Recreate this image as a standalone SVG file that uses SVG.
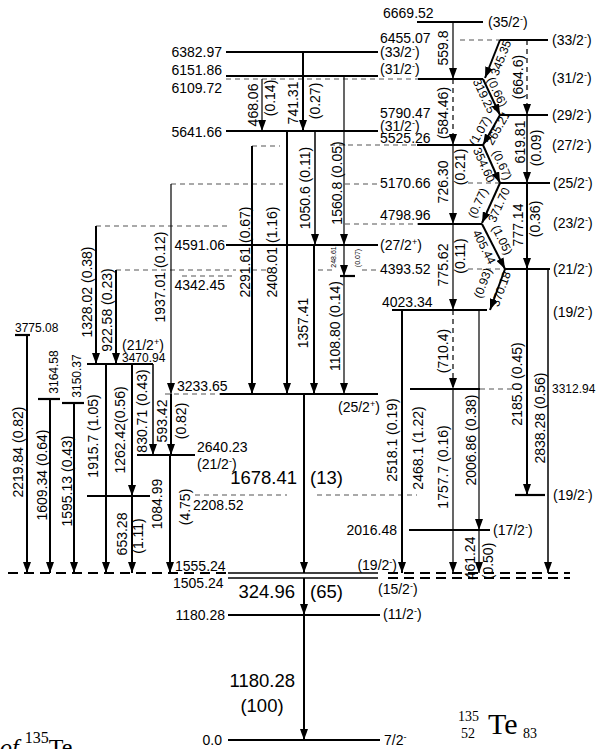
<svg xmlns="http://www.w3.org/2000/svg" width="598" height="749" viewBox="0 0 598 749">
<style>
text{font-family:"Liberation Sans",Arial,sans-serif;font-size:14px;fill:#000}
.r{text-anchor:middle;dominant-baseline:central}
.e{text-anchor:end}
.s{font-size:12px}
.b{font-size:18.5px}
.xs{font-size:7px}
.z{font-size:12px}
.sp{font-size:9px}
.lv{stroke:#000;stroke-width:2.2;fill:none}
.lt{stroke:#000;stroke-width:1.5;fill:none}
.lvd{stroke:#555;stroke-width:1.2;stroke-dasharray:5 4;fill:none}
.lk{stroke:#000;stroke-width:2;stroke-dasharray:10 6;fill:none}
.tr{stroke:#000;stroke-width:2;fill:none;marker-end:url(#ah)}
.t1{stroke-width:1.2}
.t15{stroke-width:1.5}
.d{stroke-dasharray:5 4}
.sf{font-family:"Liberation Serif","Times New Roman",serif;font-size:14px}
.sfL{font-family:"Liberation Serif","Times New Roman",serif;font-size:30px}
.cap{font-family:"Liberation Serif","Times New Roman",serif;font-size:24px}
.capS{font-size:16px}
</style>
<defs>
<marker id="ah" viewBox="0 0 11 8" markerUnits="userSpaceOnUse" markerWidth="11" markerHeight="8" refX="11" refY="4" orient="auto">
<path d="M0,0 L11,4 L0,8 z" fill="#000"/>
</marker>
</defs>
<rect width="598" height="749" fill="#fff"/>

<g id="levels">
<g id="L0"><line x1="228" y1="740" x2="380" y2="740" class="lv"/><text x="222" y="745" class="e">0.0</text><text x="384" y="745">7/2<tspan class="sp" dy="-5">-</tspan></text></g>
<g id="L1180"><line x1="228" y1="615" x2="380" y2="615" class="lv"/><text x="225" y="620" class="e">1180.28</text><text x="383" y="619">(11/2<tspan class="sp" dy="-5">-</tspan><tspan dy="5">)</tspan></text></g>
<g id="L1505"><line x1="228" y1="578" x2="378" y2="578" class="lt"/><line x1="388" y1="578" x2="570" y2="578" class="lk"/><text x="173" y="588">1505.24</text><text x="378" y="594">(15/2<tspan class="sp" dy="-5">-</tspan><tspan dy="5">)</tspan></text></g>
<g id="L1555"><line x1="228" y1="573" x2="378" y2="573" class="lt"/><line x1="8" y1="573" x2="228" y2="573" class="lk"/><line x1="388" y1="573" x2="570" y2="573" class="lk"/><text x="175" y="571">1555.24</text><text x="397" y="570" class="e">(19/2<tspan class="sp" dy="-5">-</tspan><tspan dy="5">)</tspan></text></g>
<g id="L2016"><line x1="409" y1="530" x2="490" y2="530" class="lv"/><text x="397" y="535" class="e">2016.48</text><text x="493" y="535">(17/2<tspan class="sp" dy="-5">-</tspan><tspan dy="5">)</tspan></text></g>
<g id="L2208"><line x1="87" y1="496" x2="150" y2="496" class="lv"/><line x1="195" y1="495" x2="287" y2="495" class="lvd"/><line x1="317" y1="495" x2="417" y2="495" class="lvd"/><line x1="515" y1="495" x2="545" y2="495" class="lv"/><text x="193" y="510">2208.52</text><text x="553" y="500">(19/2<tspan class="sp" dy="-5">-</tspan><tspan dy="5">)</tspan></text></g>
<g id="L2640"><line x1="137" y1="455" x2="195" y2="455" class="lv"/><text x="197" y="452">2640.23</text><text x="197" y="469">(21/2<tspan class="sp" dy="-5">-</tspan><tspan dy="5">)</tspan></text></g>
<g id="L3150"><line x1="62" y1="403" x2="84" y2="403" class="lv"/><text class="r s" transform="translate(77 376) rotate(-90)">3150.37</text></g>
<g id="L3164"><line x1="38" y1="399" x2="60" y2="399" class="lv"/><text class="r s" transform="translate(54 372) rotate(-90)">3164.58</text></g>
<g id="L3233"><line x1="165" y1="394" x2="220" y2="394" class="lvd"/><line x1="220" y1="394" x2="378" y2="394" class="lv"/><text x="177" y="391">3233.65</text><text x="338" y="412">(25/2<tspan class="sp" dy="-5">+</tspan><tspan dy="5">)</tspan></text></g>
<g id="L3312"><line x1="410" y1="389" x2="480" y2="389" class="lv"/><line x1="480" y1="389" x2="523" y2="389" class="lvd"/><text x="552" y="393" class="z">3312.94</text></g>
<g id="L3470"><line x1="87" y1="364" x2="153" y2="364" class="lv"/><text x="122" y="350">(21/2<tspan class="sp" dy="-5">+</tspan><tspan dy="5">)</tspan></text><text x="122" y="362" class="z">3470.94</text></g>
<g id="L3775"><line x1="15" y1="335" x2="30" y2="335" class="lv"/><text x="15" y="332" class="z">3775.08</text></g>
<g id="L4023"><line x1="392" y1="310" x2="487" y2="310" class="lv"/><text x="382" y="307">4023.34</text><text x="553" y="317">(19/2<tspan class="sp" dy="-5">-</tspan><tspan dy="5">)</tspan></text></g>
<g id="L4342"><line x1="182" y1="276" x2="236" y2="276" class="lvd"/><line x1="340" y1="276" x2="355" y2="276" class="lv"/><text x="225" y="290" class="e">4342.45</text></g>
<g id="L4393"><line x1="116" y1="270" x2="236" y2="270" class="lvd"/><line x1="252" y1="270" x2="268" y2="270" class="lvd"/><line x1="318" y1="270" x2="332" y2="270" class="lvd"/><line x1="362" y1="270" x2="378" y2="270" class="lvd"/><line x1="468" y1="269" x2="505" y2="269" class="lvd"/><line x1="505" y1="269" x2="550" y2="269" class="lv"/><text x="380" y="274">4393.52</text><text x="553" y="274">(21/2<tspan class="sp" dy="-5">-</tspan><tspan dy="5">)</tspan></text></g>
<g id="L4591"><line x1="226" y1="245" x2="378" y2="245" class="lv"/><text x="225" y="250" class="e">4591.06</text><text x="380" y="250">(27/2<tspan class="sp" dy="-5">+</tspan><tspan dy="5">)</tspan></text></g>
<g id="L4798"><line x1="96" y1="226" x2="228" y2="226" class="lvd"/><line x1="345" y1="224" x2="418" y2="224" class="lvd"/><line x1="418" y1="224" x2="482" y2="224" class="lv"/><text x="380" y="220">4798.96</text><text x="553" y="228">(23/2<tspan class="sp" dy="-5">-</tspan><tspan dy="5">)</tspan></text></g>
<g id="L5170"><line x1="171" y1="184" x2="283" y2="184" class="lvd"/><line x1="345" y1="184" x2="380" y2="184" class="lvd"/><line x1="468" y1="183" x2="500" y2="183" class="lvd"/><line x1="500" y1="183" x2="550" y2="183" class="lv"/><text x="380" y="188">5170.66</text><text x="553" y="188">(25/2<tspan class="sp" dy="-5">-</tspan><tspan dy="5">)</tspan></text></g>
<g id="L5525"><line x1="252" y1="146" x2="280" y2="146" class="lvd"/><line x1="330" y1="145" x2="417" y2="145" class="lvd"/><line x1="417" y1="145" x2="483" y2="145" class="lv"/><text x="380" y="143">5525.26</text><text x="552" y="150">(27/2<tspan class="sp" dy="-5">-</tspan><tspan dy="5">)</tspan></text></g>
<g id="L5641"><line x1="226" y1="131" x2="378" y2="131" class="lv"/><text x="222" y="137" class="e">5641.66</text><text x="380" y="131">(31/2<tspan class="sp" dy="-5">-</tspan><tspan dy="5">)</tspan></text></g>
<g id="L5790"><line x1="500" y1="115" x2="548" y2="115" class="lv"/><text x="380" y="118">5790.47</text><text x="552" y="120">(29/2<tspan class="sp" dy="-5">-</tspan><tspan dy="5">)</tspan></text></g>
<g id="L6109"><line x1="226" y1="79" x2="418" y2="79" class="lvd"/><line x1="418" y1="79" x2="483" y2="79" class="lv"/><text x="222" y="93" class="e">6109.72</text><text x="552" y="83">(31/2<tspan class="sp" dy="-5">-</tspan><tspan dy="5">)</tspan></text></g>
<g id="L6151"><line x1="226" y1="76" x2="378" y2="76" class="lv"/><text x="222" y="75" class="e">6151.86</text><text x="380" y="74">(31/2<tspan class="sp" dy="-5">-</tspan><tspan dy="5">)</tspan></text></g>
<g id="L6382"><line x1="226" y1="52" x2="378" y2="52" class="lv"/><text x="222" y="57" class="e">6382.97</text><text x="380" y="57">(33/2<tspan class="sp" dy="-5">-</tspan><tspan dy="5">)</tspan></text></g>
<g id="L6455"><line x1="460" y1="40" x2="500" y2="40" class="lvd"/><line x1="500" y1="40" x2="548" y2="40" class="lv"/><text x="380" y="43">6455.07</text><text x="552" y="45">(33/2<tspan class="sp" dy="-5">-</tspan><tspan dy="5">)</tspan></text></g>
<g id="L6669"><line x1="417" y1="22" x2="483" y2="22" class="lv"/><text x="383" y="18">6669.52</text><text x="488" y="27">(35/2<tspan class="sp" dy="-5">-</tspan><tspan dy="5">)</tspan></text></g>
</g>

<g id="transitions">
<line x1="27" y1="335" x2="27" y2="573" class="tr"/>
<line x1="50" y1="399" x2="50" y2="573" class="tr"/>
<line x1="74" y1="403" x2="74" y2="573" class="tr"/>
<line x1="96" y1="226" x2="96" y2="364" class="tr"/>
<line x1="116" y1="270" x2="116" y2="364" class="tr"/>
<line x1="106" y1="364" x2="106" y2="573" class="tr"/>
<line x1="132" y1="364" x2="132" y2="496" class="tr"/>
<line x1="132" y1="496" x2="132" y2="573" class="tr"/>
<line x1="153" y1="364" x2="153" y2="455" class="tr t15"/>
<line x1="171" y1="184" x2="171" y2="394" class="tr t1"/>
<line x1="171" y1="394" x2="171" y2="455" class="tr"/>
<line x1="170" y1="455" x2="170" y2="573" class="tr"/>
<line x1="252" y1="146" x2="252" y2="394" class="tr"/>
<line x1="262" y1="79" x2="262" y2="131" class="tr t1"/>
<line x1="287" y1="131" x2="287" y2="394" class="tr"/>
<line x1="303" y1="52" x2="303" y2="131" class="tr"/>
<line x1="315" y1="131" x2="315" y2="245" class="tr t15"/>
<line x1="314" y1="245" x2="314" y2="394" class="tr"/>
<line x1="344" y1="76" x2="344" y2="245" class="tr t1"/>
<line x1="344" y1="245" x2="344" y2="276" class="tr t1"/>
<line x1="344" y1="276" x2="344" y2="394" class="tr t1"/>
<line x1="304" y1="394" x2="304" y2="573" class="tr"/>
<line x1="304" y1="578" x2="304" y2="615" class="tr"/>
<line x1="304" y1="615" x2="304" y2="740" class="tr"/>
<line x1="453" y1="22" x2="453" y2="79" class="tr t1"/>
<line x1="453" y1="79" x2="453" y2="145" class="tr t1 d"/>
<line x1="453" y1="145" x2="453" y2="224" class="tr t1"/>
<line x1="453" y1="224" x2="453" y2="310" class="tr t1"/>
<line x1="453" y1="310" x2="453" y2="389" class="tr t1 d"/>
<line x1="453" y1="389" x2="453" y2="573" class="tr t1"/>
<line x1="402" y1="310" x2="402" y2="573" class="tr"/>
<line x1="479" y1="310" x2="479" y2="530" class="tr t1"/>
<line x1="479" y1="530" x2="479" y2="573" class="tr t1"/>
<line x1="527" y1="40" x2="527" y2="115" class="tr t1 d"/>
<line x1="527" y1="115" x2="527" y2="183" class="tr t15"/>
<line x1="527" y1="183" x2="527" y2="269" class="tr"/>
<line x1="527" y1="269" x2="527" y2="495" class="tr"/>
<line x1="548" y1="269" x2="548" y2="573" class="tr t15"/>
<line x1="500" y1="40" x2="485" y2="78" class="tr"/>
<line x1="483" y1="79" x2="500" y2="115" class="tr"/>
<line x1="500" y1="115" x2="483" y2="145" class="tr"/>
<line x1="483" y1="145" x2="500" y2="183" class="tr"/>
<line x1="500" y1="183" x2="482" y2="223" class="tr"/>
<line x1="482" y1="224" x2="505" y2="269" class="tr"/>
<line x1="505" y1="269" x2="490" y2="310" class="tr"/>
</g>

<g id="gamma-labels">
<text class="r" transform="translate(18 452) rotate(-90)">2219.84 (0.82)</text>
<text class="r" transform="translate(42 475) rotate(-90)">1609.34 (0.64)</text>
<text class="r" transform="translate(67 481) rotate(-90)">1595.13 (0.43)</text>
<text class="r" transform="translate(87 292) rotate(-90)">1328.02 (0.38)</text>
<text class="r" transform="translate(107 310) rotate(-90)">922.58 (0.23)</text>
<text class="r" transform="translate(93 436) rotate(-90)">1915.7 (1.05)</text>
<text class="r" transform="translate(120 430) rotate(-90)">1262.42(0.56)</text>
<text class="r" transform="translate(142 411) rotate(-90)">830.71 (0.43)</text>
<text class="r" transform="translate(160 277) rotate(-90)">1937.01 (0.12)</text>
<text class="r" transform="translate(162 421) rotate(-90)">593.42</text>
<text class="r" transform="translate(181 421) rotate(-90)">(0.82)</text>
<text class="r" transform="translate(157 504) rotate(-90)">1084.99</text>
<text class="r" transform="translate(185 507) rotate(-90)">(4.75)</text>
<text class="r" transform="translate(122 534) rotate(-90)">653.28</text>
<text class="r" transform="translate(138 536) rotate(-90)">(1.11)</text>
<text class="r" transform="translate(245 252) rotate(-90)">2291.61 (0.67)</text>
<text class="r" transform="translate(272 252) rotate(-90)">2408.01 (1.16)</text>
<text class="r" transform="translate(253 105) rotate(-90)">468.06</text>
<text class="r" transform="translate(270 98) rotate(-90)">(0.14)</text>
<text class="r" transform="translate(293 103) rotate(-90)">741.31</text>
<text class="r" transform="translate(315 101) rotate(-90)">(0.27)</text>
<text class="r" transform="translate(305 188) rotate(-90)">1050.6 (0.11)</text>
<text class="r" transform="translate(337 183) rotate(-90)">1560.8 (0.05)</text>
<text class="r" transform="translate(303 323) rotate(-90)">1357.41</text>
<text class="r" transform="translate(335 326) rotate(-90)">1108.80 (0.14)</text>
<text class="r xs" transform="translate(333 257) rotate(-90)">248.61</text>
<text class="r xs" transform="translate(357 258) rotate(-90)">(0.07)</text>
<text class="r" transform="translate(443 48) rotate(-90)">559.8</text>
<text class="r" transform="translate(443 113) rotate(-90)">(584.46)</text>
<text class="r" transform="translate(443 182) rotate(-90)">726.30</text>
<text class="r" transform="translate(460 167) rotate(-90)">(0.21)</text>
<text class="r" transform="translate(443 265) rotate(-90)">775.62</text>
<text class="r" transform="translate(460 256) rotate(-90)">(0.11)</text>
<text class="r" transform="translate(443 351) rotate(-90)">(710.4)</text>
<text class="r" transform="translate(443 467) rotate(-90)">1757.7 (0.16)</text>
<text class="r" transform="translate(471 440) rotate(-90)">2006.86 (0.38)</text>
<text class="r" transform="translate(470 558) rotate(-90)">461.24</text>
<text class="r" transform="translate(488 561) rotate(-90)">(0.50)</text>
<text class="r" transform="translate(392 440) rotate(-90)">2518.1 (0.19)</text>
<text class="r" transform="translate(418 448) rotate(-90)">2468.1 (1.22)</text>
<text class="r" transform="translate(518 77) rotate(-90)">(664.6)</text>
<text class="r" transform="translate(520 142) rotate(-90)">619.81</text>
<text class="r" transform="translate(536 148) rotate(-90)">(0.09)</text>
<text class="r" transform="translate(518 225) rotate(-90)">777.14</text>
<text class="r" transform="translate(535 219) rotate(-90)">(0.36)</text>
<text class="r" transform="translate(517 384) rotate(-90)">2185.0 (0.45)</text>
<text class="r" transform="translate(540 418) rotate(-90)">2838.28 (0.56)</text>
<text class="r z" transform="translate(501 58) rotate(-68.5)">345.35</text>
<text class="r z" transform="translate(484 96) rotate(64.7)">319.25</text>
<text class="r z" transform="translate(497 92) rotate(64.7)">(0.66)</text>
<text class="r z" transform="translate(480 131) rotate(-60.5)">(1.07)</text>
<text class="r z" transform="translate(498 128) rotate(-60.5)">265.21</text>
<text class="r z" transform="translate(484 165) rotate(65.9)">354.60</text>
<text class="r z" transform="translate(502 165) rotate(65.9)">(0.67)</text>
<text class="r z" transform="translate(478 203) rotate(-65.8)">(0.77)</text>
<text class="r z" transform="translate(499 205) rotate(-65.8)">371.70</text>
<text class="r z" transform="translate(484 247) rotate(63.4)">405.44</text>
<text class="r z" transform="translate(502 240) rotate(63.4)">(1.05)</text>
<text class="r z" transform="translate(483 283) rotate(-69.9)">(0.93)</text>
<text class="r z" transform="translate(501 289) rotate(-69.9)">370.18</text>
<text x="297" y="484" class="b e">1678.41</text>
<text x="310" y="484" class="b">(13)</text>
<text x="295" y="598" class="b e">324.96</text>
<text x="310" y="598" class="b">(65)</text>
<text x="295" y="687" class="b e">1180.28</text>
<text x="262" y="712" class="b" text-anchor="middle">(100)</text>
</g>

<g id="nuclide">
<text x="458" y="721" class="sf">135</text>
<text x="461" y="738" class="sf">52</text>
<text x="488" y="734" class="sfL">Te</text>
<text x="523" y="738" class="sf">83</text>
</g>
<text x="0" y="755" class="cap"><tspan font-style="italic">of</tspan> <tspan class="capS" dy="-12">135</tspan><tspan dy="12">Te.</tspan></text>
</svg>
